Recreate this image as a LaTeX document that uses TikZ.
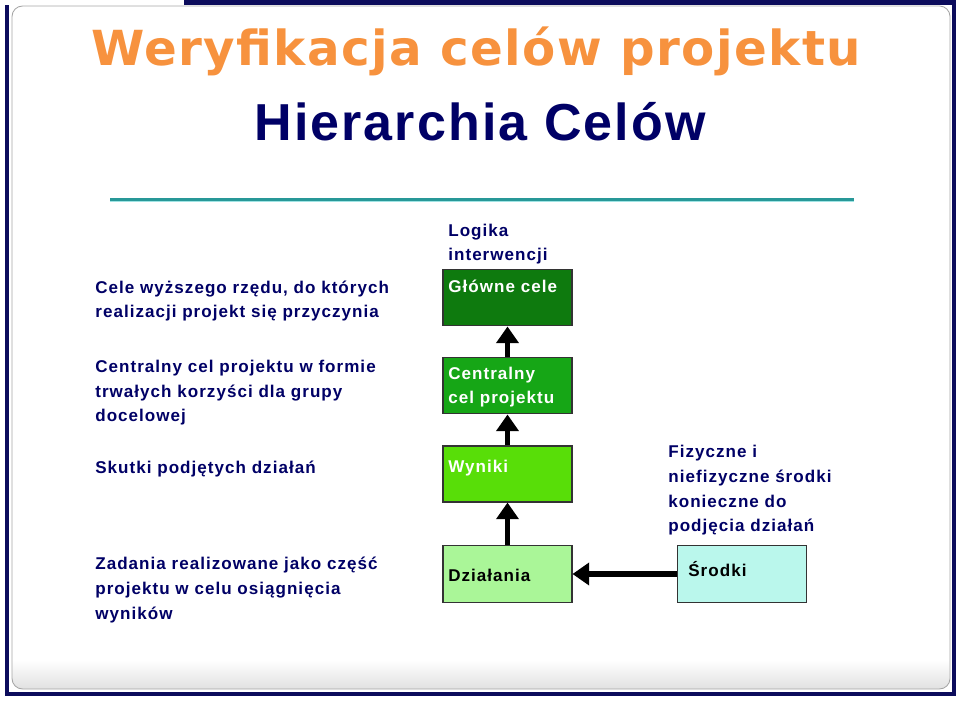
\documentclass[tikz,border=0pt]{standalone}
\usepackage{fontspec}
\setmainfont{Liberation Sans}
\newfontfamily\bodyfont[LetterSpace=6]{Liberation Sans}
\newfontfamily\headfont[LetterSpace=3]{DejaVu Sans}
\newfontfamily\subheadfont[LetterSpace=4]{Liberation Sans}
\usetikzlibrary{arrows.meta}

\definecolor{ramka}{RGB}{12,12,92}
\definecolor{granat}{RGB}{0,0,102}
\definecolor{pomarancz}{RGB}{247,146,62}
\definecolor{morski}{RGB}{40,152,152}
\definecolor{morskijasny}{RGB}{160,228,228}
\definecolor{zielen1}{RGB}{14,122,14}
\definecolor{zielen2}{RGB}{22,166,22}
\definecolor{zielen3}{RGB}{88,222,8}
\definecolor{zielen4}{RGB}{170,246,152}
\definecolor{blekit}{RGB}{186,247,236}

\tikzset{
  opis/.style={anchor=base west, inner sep=0pt, text=granat, align=left,
    font=\bodyfont\bfseries\fontsize{9.7}{14.2}\selectfont},
  napis/.style={anchor=base west, inner sep=0pt, align=left,
    font=\bodyfont\bfseries\fontsize{9.7}{14.2}\selectfont},
  pole/.style={draw=black!80, line width=0.6pt, minimum width=73.4pt,
    minimum height=32.4pt, inner sep=0pt},
  strzalka/.style={line width=3.3pt, -{Triangle[length=9.5pt,width=12.5pt]}},
}

\begin{document}
\begin{tikzpicture}[x=0.02cm, y=-0.02cm]
  \useasboundingbox (0,0) rectangle (960,705);

  % ramka slajdu
  \begin{scope}
    \clip[rounded corners=6pt] (12,6) rectangle (950,689);
    \fill[white] (12,6) rectangle (950,689);
    \shade[top color=white, bottom color=black!12] (12,660) rectangle (950,689);
  \end{scope}
  \draw[black!35, line width=0.5pt, rounded corners=6pt] (12,6) rectangle (950,689);
  \draw[ramka, line width=2.4pt] (184,2.5) -- (954,2.5) -- (954,694) -- (7,694) -- (7,5);

  % tytuly
  \node[anchor=base, inner sep=0pt, text=pomarancz,
    font=\headfont\bfseries\fontsize{27.5}{30}\selectfont] (tytul) at (476,66) {Weryfikacja celów projektu};
  \node[anchor=base, inner sep=0pt, text=granat,
    font=\subheadfont\bfseries\fontsize{29.6}{32}\selectfont] (podtytul) at (480,141) {Hierarchia Celów};

  % linia pod tytulem
  \draw[morski, line width=2.8pt] (110,200) -- (854,200);
  \draw[morskijasny, line width=0.6pt] (110,201.3) -- (854,201.3);

  % opisy po lewej (base = ostatnia linia)
  \node[opis] (opiscele) at (95,318) {Cele wyższego rzędu, do których\\realizacji projekt się przyczynia};
  \node[opis] (opiscentr) at (95,422) {Centralny cel projektu w formie\\trwałych korzyści dla grupy\\docelowej};
  \node[opis] (opisskutki) at (95,474) {Skutki podjętych działań};
  \node[opis] (opiszadania) at (95,619) {Zadania realizowane jako część\\projektu w celu osiągnięcia\\wyników};

  % logika interwencji
  \node[opis] (logika) at (448,261) {Logika\\interwencji};

  \node[pole, fill=zielen1] (glowne) at (507.5,297.5) {};
  \node[pole, fill=zielen2] (centralny) at (507.5,385.5) {};
  \node[pole, fill=zielen3, minimum height=31.9pt] (wyniki) at (507.5,474) {};
  \node[pole, fill=zielen4] (dzialania) at (507.5,574) {};
  \node[pole, fill=blekit] (srodki) at (742,574) {};

  \node[napis, text=white] (tglowne) at (448,293) {Główne cele};
  \node[napis, text=white] (tcentralny) at (448,404) {Centralny\\cel projektu};
  \node[napis, text=white] (twyniki) at (448,473) {Wyniki};
  \node[napis, text=black] (tdzialania) at (448,582) {Działania};
  \node[napis, text=black] (tsrodki) at (688,576) {Środki};

  % strzalki
  \draw[strzalka] (centralny) -- (glowne);
  \draw[strzalka] (wyniki) -- (centralny);
  \draw[strzalka] (dzialania) -- (wyniki);
  \draw[strzalka] (srodki) -- (dzialania);

  % opis srodkow
  \node[opis] (opissrodki) at (668,532) {Fizyczne i\\niefizyczne środki\\konieczne do\\podjęcia działań};
\end{tikzpicture}
\end{document}
